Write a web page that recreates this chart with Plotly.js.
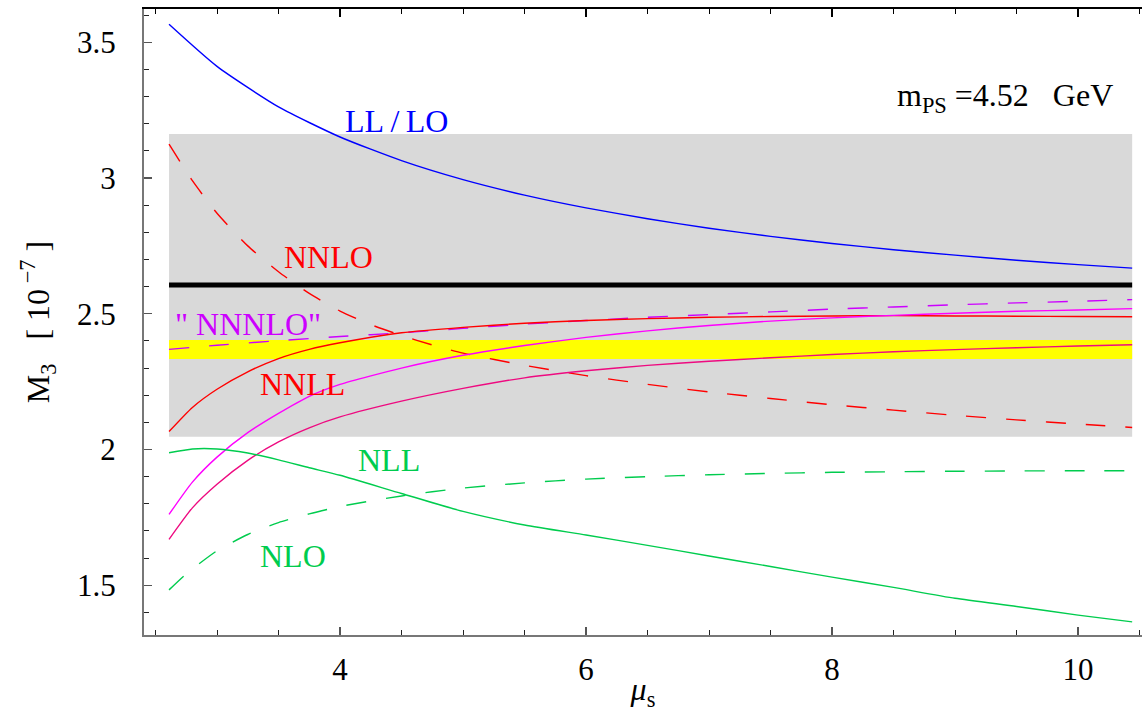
<!DOCTYPE html>
<html>
<head>
<meta charset="utf-8">
<script src="https://cdn.plot.ly/plotly-3.0.1.min.js"></script>
<style>html,body{margin:0;padding:0;background:#fff;}#chart{width:1142px;height:712px;}</style>
</head>
<body>
<div id="chart"></div>
<script>
// ---- data ----
const muLL = [2.61, 3.0, 3.5, 4.0, 4.5, 5.0, 5.5, 6.0, 6.5, 7.0, 7.5, 8.0, 8.5, 9.0, 9.5, 10.0, 10.44];
const llLO = [3.566, 3.411, 3.262, 3.151, 3.064, 2.994, 2.937, 2.890, 2.850, 2.815, 2.785, 2.759, 2.736, 2.716, 2.697, 2.681, 2.668];

const muNNLO = [2.61, 2.8, 3.0, 3.25, 3.5, 3.75, 4.0, 4.25, 4.5, 4.75, 5.0, 5.5, 6.0, 6.5, 7.0, 7.5, 8.0, 8.5, 9.0, 9.5, 10.0, 10.44];
const nnlo   = [3.125, 2.99, 2.87, 2.75, 2.655, 2.575, 2.51, 2.46, 2.42, 2.385, 2.355, 2.31, 2.272, 2.24, 2.212, 2.188, 2.165, 2.145, 2.126, 2.109, 2.094, 2.081];

const muNNNLO = [2.61, 3.0, 3.5, 4.0, 4.5, 5.0, 5.5, 6.0, 6.5, 7.0, 7.5, 8.0, 8.5, 9.0, 9.5, 10.0, 10.44];
const nnnlo   = [2.369, 2.384, 2.401, 2.416, 2.43, 2.446, 2.462, 2.475, 2.487, 2.497, 2.507, 2.517, 2.525, 2.533, 2.54, 2.546, 2.552];

const muGrid = [2.61, 2.8, 3.0, 3.25, 3.5, 3.75, 4.0, 4.5, 5.0, 5.5, 6.0, 6.5, 7.0, 7.5, 8.0, 8.5, 9.0, 9.5, 10.0, 10.44];
const nnll      = [2.066, 2.155, 2.222, 2.286, 2.335, 2.369, 2.393, 2.43, 2.45, 2.465, 2.475, 2.482, 2.487, 2.49, 2.492, 2.493, 2.492, 2.491, 2.49, 2.489];
const nnnllUp   = [1.761, 1.88, 1.972, 2.062, 2.133, 2.196, 2.24, 2.3, 2.347, 2.383, 2.413, 2.437, 2.457, 2.473, 2.485, 2.494, 2.502, 2.509, 2.514, 2.519];
const nnnllLow  = [1.669, 1.785, 1.872, 1.96, 2.028, 2.08, 2.12, 2.178, 2.225, 2.264, 2.29, 2.31, 2.325, 2.338, 2.35, 2.36, 2.368, 2.375, 2.381, 2.386];
const nll       = [1.988, 2.002, 2.002, 1.987, 1.962, 1.933, 1.905, 1.838, 1.772, 1.722, 1.685, 1.647, 1.608, 1.569, 1.53, 1.492, 1.452, 1.422, 1.39, 1.365];

const muNLO = [2.61, 2.75, 3.0, 3.25, 3.5, 3.75, 4.0, 4.5, 5.0, 5.5, 6.0, 6.5, 7.0, 7.5, 8.0, 8.5, 9.0, 9.5, 10.0, 10.44];
const nlo   = [1.483, 1.542, 1.627, 1.687, 1.731, 1.763, 1.79, 1.829, 1.858, 1.877, 1.891, 1.9, 1.907, 1.912, 1.916, 1.918, 1.92, 1.921, 1.922, 1.922];

const muSpan = [2.61, 10.44];
const grayBand = [2.047, 3.162];
const yellowBand = [2.333, 2.403];
const blackLine = 2.606;

const xTickVals = [4, 6, 8, 10];
const yTickVals = [1.5, 2, 2.5, 3, 3.5];
const yTickText = ['1.5', '2', '2.5', '3', '3.5'];

// ---- traces ----
const FONT = 'Liberation Serif, Times New Roman, serif';
function band(lim, color) {
  return {x: [muSpan[0], muSpan[1], muSpan[1], muSpan[0]], y: [lim[0], lim[0], lim[1], lim[1]],
          type: 'scatter', mode: 'lines', fill: 'toself', fillcolor: color,
          line: {width: 0}, hoverinfo: 'skip', showlegend: false};
}
function curve(x, y, color, dash) {
  return {x: x, y: y, type: 'scatter', mode: 'lines', line: {color: color, width: 1.4, dash: dash || 'solid', shape: 'spline', smoothing: 0.6}, showlegend: false};
}
const GREEN = '#00cc4e';
const traces = [
  band(grayBand, '#d9d9d9'),
  band(yellowBand, '#ffff00'),
  {x: muSpan, y: [blackLine, blackLine], type: 'scatter', mode: 'lines', xaxis: 'x2',
   line: {color: '#000', width: 5}, showlegend: false},
  curve(muLL, llLO, '#0000ff'),
  curve(muNNLO, nnlo, '#ff0000', '20px,20px'),
  curve(muNNNLO, nnnlo, '#cc00ff', '20px,20px'),
  curve(muGrid, nnll, '#ff0000'),
  curve(muGrid, nnnllUp, '#ff00ff'),
  curve(muGrid, nnnllLow, '#ee0a80'),
  curve(muGrid, nll, GREEN),
  curve(muNLO, nlo, GREEN, '20px,20px')
];

const xRange = [2.4065, 10.52];
const yRange = [1.3168, 3.6225];

function lab(text, x, y, color) {
  return {text: text, x: x, y: y, xref: 'x', yref: 'y', showarrow: false, xanchor: 'center', yanchor: 'middle',
          font: {family: FONT, size: 32, color: color}};
}

const layout = {
  width: 1142, height: 712,
  margin: {l: 144, r: 0, t: 9, b: 77},
  paper_bgcolor: '#fff', plot_bgcolor: '#fff',
  showlegend: false,
  xaxis: {
    range: xRange, showgrid: false, zeroline: false,
    tickmode: 'array', tickvals: xTickVals, ticks: 'inside', ticklen: 8, tickwidth: 1.2, tickcolor: '#555',
    minor: {tickmode: 'linear', tick0: 0, dtick: 0.5, ticks: 'inside', ticklen: 5, tickcolor: '#222', tickwidth: 1},
    showline: true, linecolor: '#777', linewidth: 2,
    tickfont: {family: FONT, size: 31, color: '#000'}, ticklabelstandoff: 6,
    title: {text: '<i>μ</i><sub>s</sub>', font: {family: FONT, size: 32, color: '#000'}, standoff: 6}
  },
  xaxis2: {
    range: xRange, overlaying: 'x', side: 'top', showgrid: false, zeroline: false,
    tickmode: 'array', tickvals: xTickVals, ticks: 'inside', ticklen: 8, tickwidth: 1.2, tickcolor: '#000',
    minor: {tickmode: 'linear', tick0: 0, dtick: 0.5, ticks: 'inside', ticklen: 5, tickcolor: '#000', tickwidth: 1},
    showline: true, linecolor: '#000', linewidth: 2, showticklabels: false
  },
  yaxis: {
    range: yRange, showgrid: false, zeroline: false,
    tickmode: 'array', tickvals: yTickVals, ticktext: yTickText, ticks: 'inside', ticklen: 8, tickwidth: 1.2, tickcolor: '#555',
    minor: {tickmode: 'linear', tick0: 0, dtick: 0.1, ticks: 'inside', ticklen: 5, tickcolor: '#222', tickwidth: 1},
    showline: true, linecolor: '#777', linewidth: 2,
    tickfont: {family: FONT, size: 31, color: '#000'}, ticklabelstandoff: 20,
    title: {text: 'M<sub>3</sub>   [ 10<sup> −7</sup> ]', font: {family: FONT, size: 32, color: '#000'}, standoff: 18}
  },
  annotations: [
    lab('LL\u2009/\u2009LO', 4.46, 3.21, '#0000ff'),
    lab('NNLO', 3.906, 2.71, '#ff0000'),
    lab('" NNNLO"', 3.256, 2.462, '#cc00ff'),
    lab('NNLL', 3.695, 2.241, '#ff0000'),
    lab('NLL', 4.40, 1.961, GREEN),
    lab('NLO', 3.614, 1.608, GREEN),
    lab('m<sub>PS</sub> =4.52   GeV', 9.41, 3.298, '#000')
  ]
};

Plotly.newPlot('chart', traces, layout, {displayModeBar: false, staticPlot: true});
</script>
</body>
</html>
